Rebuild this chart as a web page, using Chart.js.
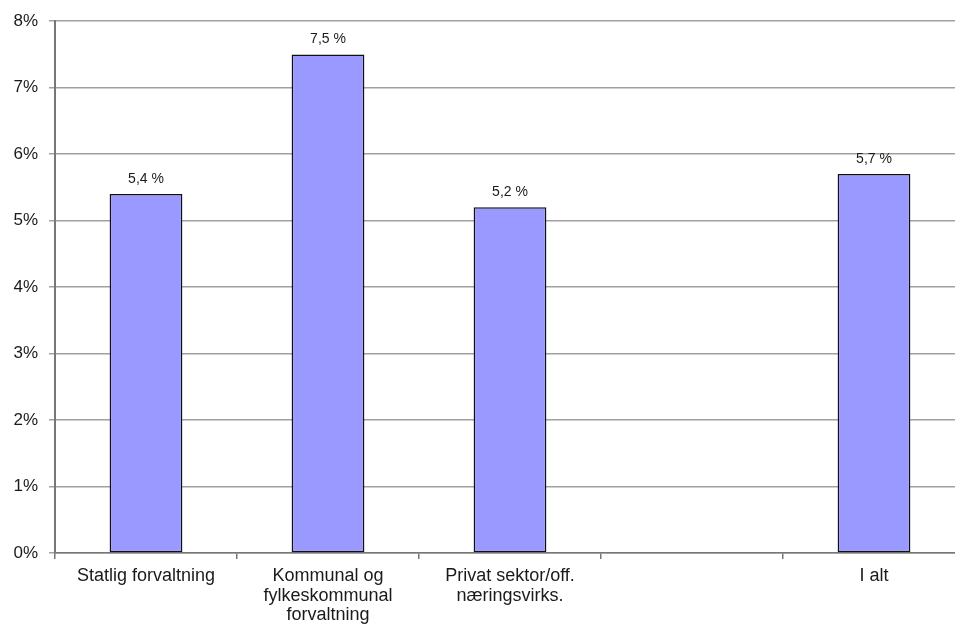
<!DOCTYPE html>
<html>
<head>
<meta charset="utf-8">
<script src="https://cdn.jsdelivr.net/npm/chart.js@4/dist/chart.umd.min.js"></script>
<style>
  html, body { margin: 0; padding: 0; background: #fff; overflow: hidden; }
  #wrap { width: 965px; height: 626px; position: relative; }
</style>
</head>
<body>
<div id="wrap"><canvas id="c" width="965" height="626"></canvas></div>
<script>
// Sickness absence share by sector
const categories = [
  'Statlig forvaltning',
  ['Kommunal og', 'fylkeskommunal', 'forvaltning'],
  ['Privat sektor/off.', 'næringsvirks.'],
  '',
  'I alt'
];
const shares = [5.4, 7.5, 5.2, null, 5.7];
const yTicks = [0, 1, 2, 3, 4, 5, 6, 7, 8];

const FONT = '"Liberation Sans", Arial, sans-serif';

// Writes "5,4 %" style labels above each bar
const valueLabels = {
  id: 'valueLabels',
  afterDatasetsDraw(chart) {
    const ctx = chart.ctx;
    ctx.save();
    ctx.font = '14px ' + FONT;
    ctx.fillStyle = '#1a1a1a';
    ctx.textAlign = 'center';
    ctx.textBaseline = 'alphabetic';
    chart.getDatasetMeta(0).data.forEach((bar, i) => {
      const v = shares[i];
      if (v === null || v === undefined) return;
      ctx.fillText(v.toFixed(1).replace('.', ',') + ' %', bar.x, bar.y - 11);
    });
    ctx.restore();
  }
};

new Chart(document.getElementById('c'), {
  type: 'bar',
  data: {
    labels: categories,
    datasets: [{
      data: shares,
      backgroundColor: '#9999ff',
      borderColor: '#111',
      borderWidth: 1.5,
      borderSkipped: false,
      categoryPercentage: 1,
      barPercentage: 0.4
    }]
  },
  options: {
    responsive: false,
    animation: false,
    devicePixelRatio: 1,
    layout: { padding: { top: 20, left: 0, right: 0, bottom: 0 } },
    plugins: {
      legend: { display: false },
      tooltip: { enabled: false }
    },
    scales: {
      x: {
        grid: {
          offset: true,
          drawOnChartArea: false,
          drawTicks: true,
          tickLength: 6,
          color: '#777',
          lineWidth: 1.5
        },
        border: { display: true, color: '#777', width: 1.5 },
        ticks: {
          color: '#1a1a1a',
          font: { family: FONT, size: 18, lineHeight: 1.1 },
          padding: 7,
          maxRotation: 0,
          autoSkip: false
        },
        afterFit(scale) { scale.height = 73; }
      },
      y: {
        min: 0,
        max: 8,
        afterBuildTicks(scale) { scale.ticks = yTicks.map(v => ({ value: v })); },
        grid: {
          color: '#a0a0a0',
          lineWidth: 1.5,
          drawTicks: true,
          tickLength: 6
        },
        border: { display: true, color: '#777', width: 2 },
        ticks: {
          color: '#1a1a1a',
          font: { family: FONT, size: 17 },
          padding: 11,
          callback: v => v + '%'
        },
        afterFit(scale) { scale.width = 55; }
      }
    }
  },
  plugins: [valueLabels]
});
</script>
</body>
</html>
